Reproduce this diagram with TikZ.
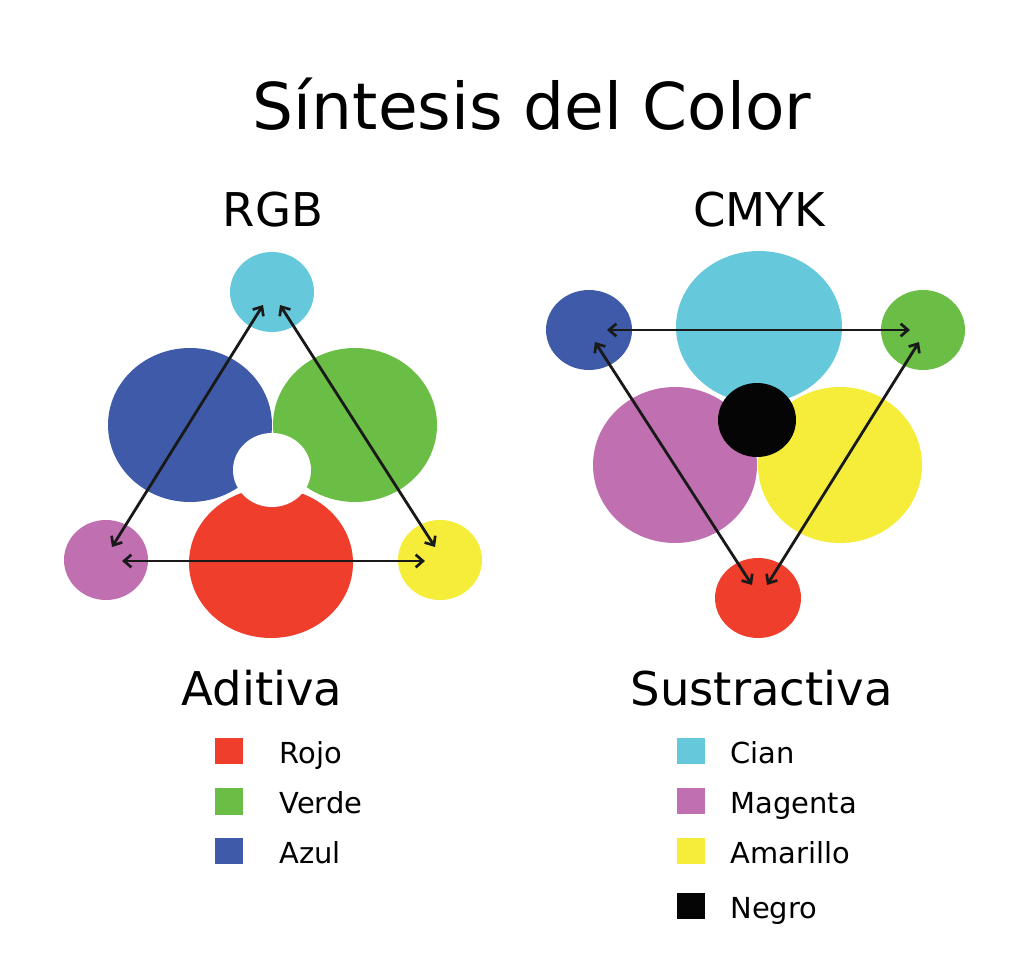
\documentclass[tikz,border=0pt]{standalone}
\usepackage{fontspec}
\setmainfont{DejaVu Sans}
\usetikzlibrary{arrows.meta}

\definecolor{cian}{RGB}{102,201,219}
\definecolor{azul}{RGB}{62,90,168}
\definecolor{verde}{RGB}{106,189,69}
\definecolor{rojo}{RGB}{239,62,44}
\definecolor{magenta}{RGB}{192,112,176}
\definecolor{amarillo}{RGB}{246,237,59}
\definecolor{negro}{RGB}{5,5,5}

\tikzset{every picture/.style={line width=0.75pt}}
\tikzset{
  flecha/.style={draw=black!90, line width=2.1pt, {Straight Barb[length=5.5pt,width=9.5pt,line width=2pt]}-{Straight Barb[length=5.5pt,width=9.5pt,line width=2pt]}},
  titulo/.style={anchor=base, inner sep=0pt, font=\fontsize{48.4}{58}\selectfont},
  cabecera/.style={inner sep=0pt, font=\fontsize{34.9}{42}\selectfont},
  leyenda/.style={anchor=base west, inner sep=0pt, font=\fontsize{21.7}{26}\selectfont}
}

\begin{document}
\begin{tikzpicture}[x=0.75pt,y=0.75pt,yscale=-1,xscale=1]
\useasboundingbox (0,0) rectangle (1024,966);

%Shape: Circle RGB
\fill [cian] (272,292) ellipse [x radius=42, y radius=40];
\fill [azul] (190,425) ellipse [x radius=82, y radius=77];
\fill [verde] (355,425) ellipse [x radius=82, y radius=77];
\fill [rojo] (271,563) ellipse [x radius=82, y radius=75];
\fill [white] (272,470) ellipse [x radius=39, y radius=37];
\fill [magenta] (106,560) ellipse [x radius=42, y radius=40];
\fill [amarillo] (440,560) ellipse [x radius=42, y radius=40];

%Shape: Circle CMYK
\fill [azul] (589,330) ellipse [x radius=43, y radius=40];
\fill [cian] (759,327) ellipse [x radius=83, y radius=76];
\fill [verde] (923,330) ellipse [x radius=42, y radius=40];
\fill [magenta] (675,465) ellipse [x radius=82, y radius=78];
\fill [amarillo] (840,465) ellipse [x radius=82, y radius=78];
\fill [negro] (757,420) ellipse [x radius=39, y radius=37];
\fill [rojo] (758,598) ellipse [x radius=43, y radius=40];

% arrow ends
\coordinate (rgbC1) at (263,305);
\coordinate (rgbC2) at (280,305);
\coordinate (rgbM1) at (112,547);
\coordinate (rgbM2) at (122,561);
\coordinate (rgbY1) at (435,547);
\coordinate (rgbY2) at (425,561);
\coordinate (cmykB1) at (607,330);
\coordinate (cmykB2) at (595,342);
\coordinate (cmykG1) at (910,330);
\coordinate (cmykG2) at (919,342);
\coordinate (cmykR1) at (752,585);
\coordinate (cmykR2) at (767,585);

%Straight Lines
\draw [flecha] (rgbC1) -- (rgbM1);
\draw [flecha] (rgbC2) -- (rgbY1);
\draw [flecha] (rgbM2) -- (rgbY2);
\draw [flecha] (cmykB1) -- (cmykG1);
\draw [flecha] (cmykB2) -- (cmykR1);
\draw [flecha] (cmykG2) -- (cmykR2);

% Text Node
\node [titulo] (sintesis) at (532,130) {Síntesis del Color};
% Text Node
\node [cabecera, anchor=base] (rgb) at (273,227) {RGB};
% Text Node
\node [cabecera, anchor=base] (cmyk) at (759,227) {CMYK};
% Text Node
\node [cabecera, anchor=base west] (aditiva) at (181,705) {Aditiva};
% Text Node
\node [cabecera, anchor=base west] (sustractiva) at (630,705) {Sustractiva};

%Shape: Rectangle
\fill [rojo] (215,738) rectangle (243,764);
\fill [verde] (215,788) rectangle (243,815);
\fill [azul] (215,838) rectangle (243,864);
\fill [cian] (677,738) rectangle (705,764);
\fill [magenta] (677,788) rectangle (705,814);
\fill [amarillo] (677,838) rectangle (705,864);
\fill [negro] (677,893) rectangle (705,919);

% Text Node
\node [leyenda] (tRojo) at (279,763) {Rojo};
\node [leyenda] (tVerde) at (279,813) {Verde};
\node [leyenda] (tAzul) at (279,863) {Azul};
\node [leyenda] (tCian) at (730,763) {Cian};
\node [leyenda] (tMagenta) at (730,813) {Magenta};
\node [leyenda] (tAmarillo) at (730,863) {Amarillo};
\node [leyenda] (tNegro) at (730,918) {Negro};

\end{tikzpicture}
\end{document}
